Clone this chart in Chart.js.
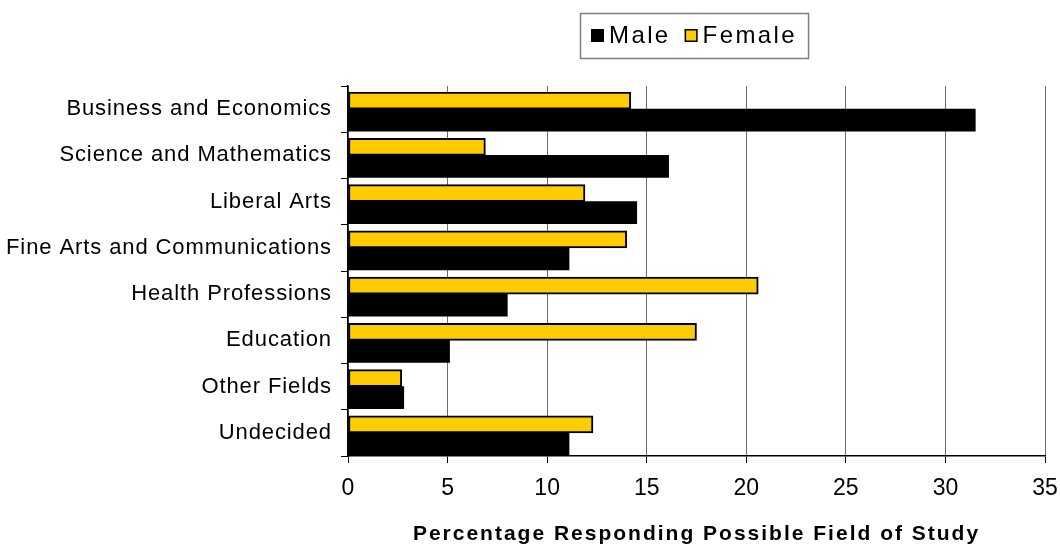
<!DOCTYPE html>
<html><head><meta charset="utf-8">
<script src="https://cdn.jsdelivr.net/npm/chart.js@4.4.0/dist/chart.umd.min.js"></script>
<style>html,body{margin:0;padding:0;background:#fff;}canvas{display:block;}</style>
</head><body>
<canvas id="c" width="1060" height="549"></canvas>
<script>
const categories = ['Business and Economics','Science and Mathematics','Liberal Arts','Fine Arts and Communications','Health Professions','Education','Other Fields','Undecided'];
const maleValues = [31.5, 16.1, 14.5, 11.1, 8.0, 5.1, 2.8, 11.1];
const femaleValues = [14.2, 6.9, 11.9, 14.0, 20.6, 17.5, 2.7, 12.3];
const xTicks = [0, 5, 10, 15, 20, 25, 30, 35];
const seriesNames = ['Male', 'Female'];
const axisTitle = 'Percentage Responding Possible Field of Study';

const FONT = '"Liberation Sans", Arial, Helvetica, sans-serif';
const YELLOW = '#FFCC00';

const spacingPlugin = {
  id: 'spacing',
  beforeDraw(chart) {
    const cfg = { x: { labels: '0px', title: '2px' }, y: { labels: '0.9px', title: '0px' } };
    for (const id of ['x', 'y']) {
      const s = chart.scales[id];
      if (!s || s._wrappedLS) continue;
      const oL = s.drawLabels.bind(s);
      s.drawLabels = (a) => { const c = s.ctx; const p = c.letterSpacing; c.letterSpacing = cfg[id].labels; oL(a); c.letterSpacing = p || '0px'; };
      const oT = s.drawTitle.bind(s);
      s.drawTitle = (a) => { const c = s.ctx; const p = c.letterSpacing; c.letterSpacing = cfg[id].title; oT(a); c.letterSpacing = p || '0px'; };
      s._wrappedLS = true;
    }
  }
};

const legendPlugin = {
  id: 'boxLegend',
  afterDraw(chart) {
    const ctx = chart.ctx;
    const ca = chart.chartArea;
    ctx.save();
    ctx.letterSpacing = '2.4px';
    ctx.font = '24px ' + FONT;
    ctx.textBaseline = 'middle';
    ctx.textAlign = 'left';
    const items = seriesNames.map(name => {
      const ds = chart.data.datasets.find(d => d.label === name);
      return { name, fill: ds.backgroundColor, border: ds.borderWidth > 0, w: ctx.measureText(name).width };
    });
    const pad = 11, sq = 13, gapSq = 5, gapItem = 14;
    let total = pad * 2;
    items.forEach((it, i) => { total += sq + gapSq + it.w + (i < items.length - 1 ? gapItem : 0); });
    const top = 13, bottom = 58;
    const left = Math.round((ca.left + ca.right) / 2 - total / 2) - 2;
    const cy = (top + bottom) / 2;
    ctx.strokeStyle = '#7f7f7f';
    ctx.lineWidth = 1.5;
    ctx.strokeRect(left + 0.5, top + 0.5, total, bottom - top);
    let x = left + pad;
    items.forEach(it => {
      ctx.fillStyle = it.fill;
      ctx.fillRect(x, cy - sq / 2, sq, sq);
      if (it.border) { ctx.strokeStyle = '#000'; ctx.lineWidth = 1.5; ctx.strokeRect(x + 0.75, cy - sq / 2 + 0.75, sq - 1.5, sq - 1.5); }
      x += sq + gapSq;
      ctx.fillStyle = '#000';
      ctx.fillText(it.name, x, cy + 1);
      x += it.w + gapItem;
    });
    ctx.restore();
  }
};

new Chart(document.getElementById('c'), {
  type: 'bar',
  data: {
    labels: categories,
    datasets: [
      { label: seriesNames[1], data: femaleValues, backgroundColor: YELLOW, borderColor: '#000', borderWidth: 2, borderSkipped: false, barThickness: 17 },
      { label: seriesNames[0], data: maleValues, backgroundColor: '#000', borderWidth: 0, barThickness: 22 }
    ]
  },
  options: {
    indexAxis: 'y',
    responsive: false,
    animation: false,
    devicePixelRatio: 1,
    layout: { padding: { top: 86, right: 15, left: 0, bottom: 0 } },
    plugins: { legend: { display: false }, tooltip: { enabled: false } },
    scales: {
      x: {
        type: 'linear', min: 0, max: 35,
        afterBuildTicks: (s) => { s.ticks = xTicks.map(v => ({ value: v })); },
        afterFit: (s) => { s.height = 93; s.paddingLeft = 0; s.paddingRight = 0; },
        grid: { color: '#6e6e6e', lineWidth: 1, tickColor: '#000', tickLength: 7, drawTicks: true },
        border: { color: '#000', width: 1.5 },
        ticks: { color: '#000', font: { family: FONT, size: 23 }, padding: 12, maxRotation: 0 },
        title: { display: true, text: axisTitle, color: '#000', font: { family: FONT, size: 21, weight: 'bold' }, padding: { top: 0, bottom: 2 } }
      },
      y: {
        type: 'category',
        afterFit: (s) => { s.width = 348; s.paddingTop = 0; s.paddingBottom = 0; },
        grid: { offset: true, drawOnChartArea: false, tickLength: 7, color: '#000', tickColor: '#000' },
        border: { color: '#000', width: 1.5 },
        ticks: { color: '#000', font: { family: FONT, size: 22 }, padding: 9, autoSkip: false }
      }
    }
  },
  plugins: [spacingPlugin, legendPlugin]
});
</script>
</body></html>
